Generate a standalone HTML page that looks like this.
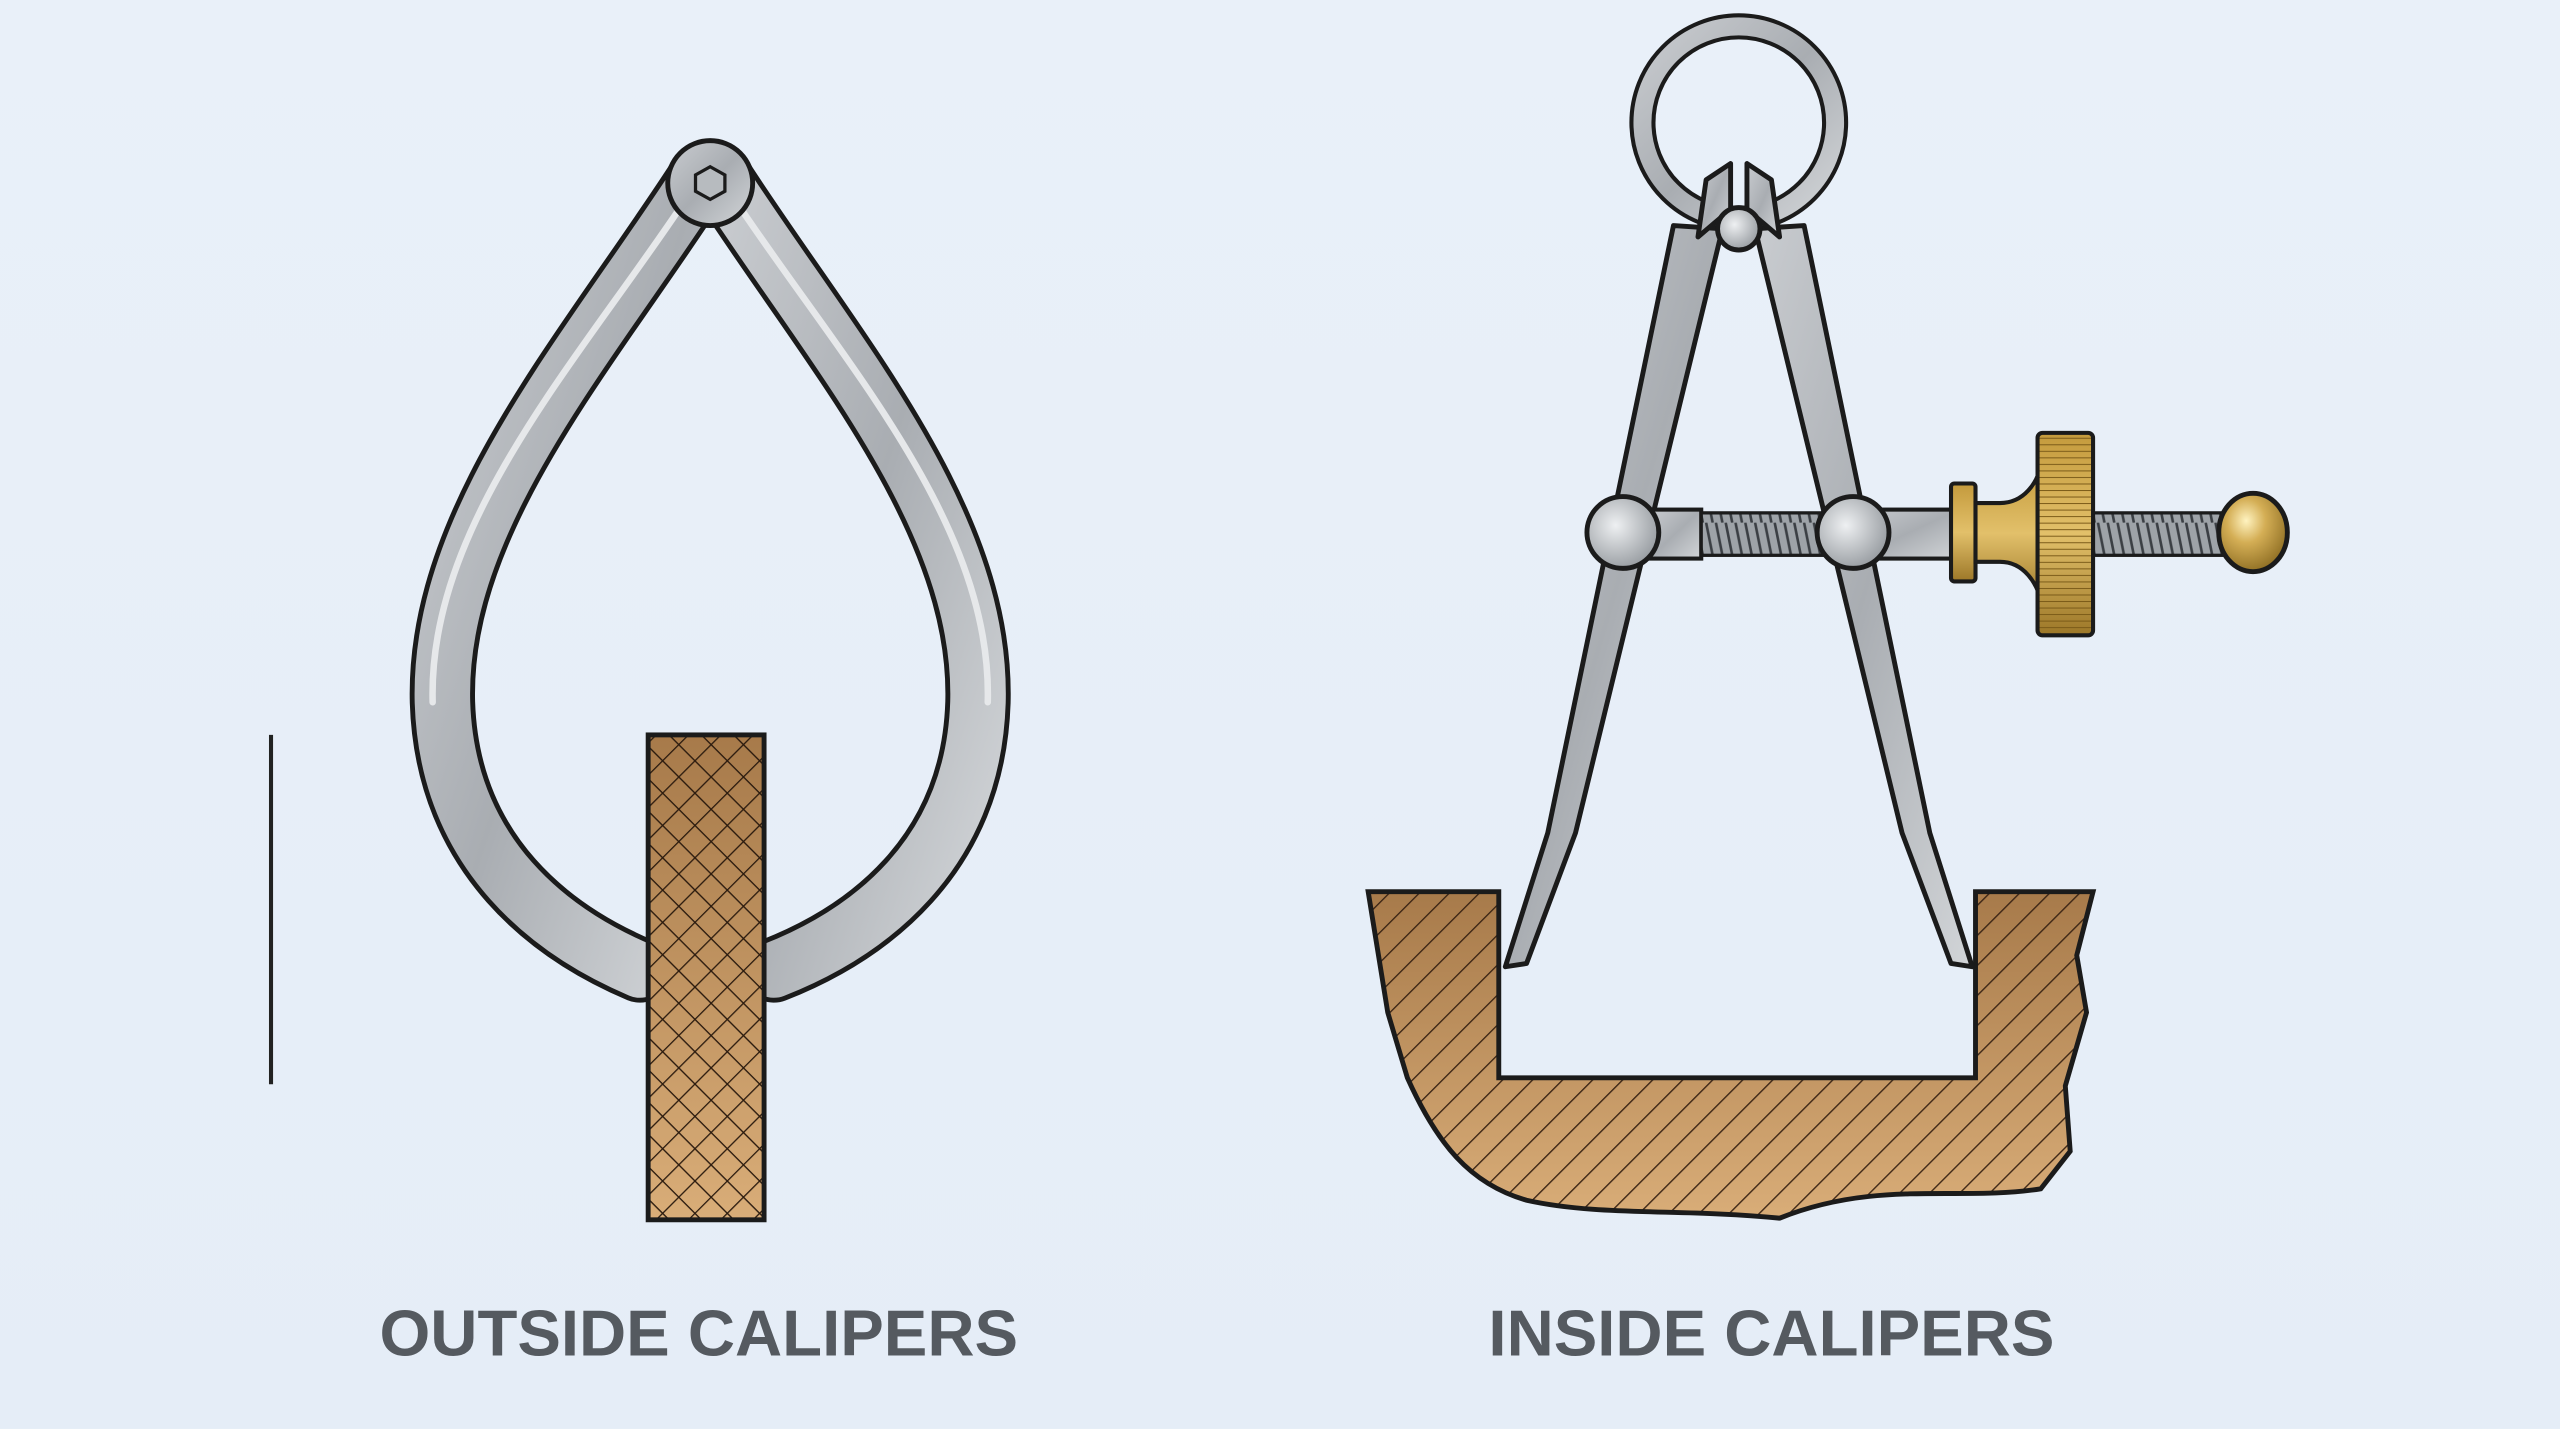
<!DOCTYPE html>
<html><head><meta charset="utf-8"><style>
html,body{margin:0;padding:0;width:2560px;height:1429px;overflow:hidden;background:#e8eff8}
svg{display:block}
</style></head><body>
<svg width="2560" height="1429" viewBox="0 0 1568 875" xmlns="http://www.w3.org/2000/svg">
<defs>
<linearGradient id="bg" x1="0" y1="0" x2="0" y2="1"><stop offset="0" stop-color="#e9f0f9"/><stop offset="1" stop-color="#e5edf7"/></linearGradient>
<linearGradient id="steel" x1="0" y1="0" x2="1" y2="1"><stop offset="0" stop-color="#c9ccd0"/><stop offset="0.5" stop-color="#a9adb2"/><stop offset="1" stop-color="#d2d5d8"/></linearGradient>
<radialGradient id="ball" cx="0.4" cy="0.4" r="0.7"><stop offset="0" stop-color="#eef0f2"/><stop offset="1" stop-color="#8e9398"/></radialGradient>
<radialGradient id="brassball" cx="0.4" cy="0.35" r="0.7"><stop offset="0" stop-color="#fff3c0"/><stop offset="0.4" stop-color="#d4ae55"/><stop offset="1" stop-color="#8a6a20"/></radialGradient>
<linearGradient id="brass" x1="0" y1="0" x2="0" y2="1"><stop offset="0" stop-color="#c49a3c"/><stop offset="0.5" stop-color="#e2c06a"/><stop offset="1" stop-color="#9c7728"/></linearGradient>
<linearGradient id="bronze" x1="0" y1="0" x2="0" y2="1"><stop offset="0" stop-color="#a77a4a"/><stop offset="1" stop-color="#d9ad78"/></linearGradient>
<pattern id="xh" width="14" height="14" patternUnits="userSpaceOnUse" patternTransform="rotate(45)">
<rect width="14" height="14" fill="none"/><path d="M0,0H14M0,0V14" stroke="#2a1a0e" stroke-width="1.6"/></pattern>
<pattern id="dh" width="13" height="13" patternUnits="userSpaceOnUse" patternTransform="rotate(-45)">
<path d="M0,0H13" stroke="#3a2414" stroke-width="1.6"/></pattern>
<pattern id="thread" width="6" height="20" patternUnits="userSpaceOnUse">
<rect width="6" height="20" fill="#9ea3a8"/><path d="M1,0L5,20" stroke="#3b3f44" stroke-width="1.6"/></pattern>
<pattern id="knurl" width="4" height="10" patternUnits="userSpaceOnUse" patternTransform="rotate(90)">
<path d="M0,0V10" stroke="#7a5a18" stroke-width="1.2"/></pattern>
</defs>
<rect width="1568" height="875" fill="url(#bg)"/>

<!-- Outside calipers -->
<line x1="166" y1="450" x2="166" y2="664" stroke="#222" stroke-width="2.5"/>
<g fill="none" stroke-linecap="round">
<path d="M428,110 C360,215 268,318 271,430 C274,525 340,572 392,594" stroke="#1b1b1b" stroke-width="40"/>
<path d="M442,110 C510,215 602,318 599,430 C596,525 530,572 474,594" stroke="#1b1b1b" stroke-width="40"/>
<path d="M428,110 C360,215 268,318 271,430 C274,525 340,572 392,594" stroke="url(#steel)" stroke-width="34"/>
<path d="M442,110 C510,215 602,318 599,430 C596,525 530,572 474,594" stroke="url(#steel)" stroke-width="34"/>
<path d="M420,122 C355,220 262,320 265,430" stroke="#e6e8ea" stroke-width="4"/>
<path d="M450,122 C515,220 608,320 605,430" stroke="#e6e8ea" stroke-width="4"/>
</g>
<circle cx="435" cy="112" r="26" fill="url(#steel)" stroke="#1b1b1b" stroke-width="3"/>
<polygon points="435,102 444,107 444,117 435,122 426,117 426,107" fill="#b7bbbf" stroke="#1b1b1b" stroke-width="2"/>
<rect x="397" y="450" width="71" height="297" fill="url(#bronze)"/>
<rect x="397" y="450" width="71" height="297" fill="url(#xh)"/>
<rect x="397" y="450" width="71" height="297" fill="none" stroke="#1b1b1b" stroke-width="3"/>
<text x="428" y="830" text-anchor="middle" font-family="Liberation Sans, sans-serif" font-weight="bold" font-size="40" fill="#555a60">OUTSIDE CALIPERS</text>

<!-- Inside calipers: workpiece -->
<path d="M838,546 L918,546 L918,660 L1210,660 L1210,546 L1282,546 L1272,585 L1278,620 L1265,665 L1268,705 L1250,728 C1200,736 1150,722 1090,746 C1030,740 980,745 935,735 C900,725 880,700 862,660 L850,620 Z" fill="url(#bronze)"/>
<path d="M838,546 L918,546 L918,660 L1210,660 L1210,546 L1282,546 L1272,585 L1278,620 L1265,665 L1268,705 L1250,728 C1200,736 1150,722 1090,746 C1030,740 980,745 935,735 C900,725 880,700 862,660 L850,620 Z" fill="url(#dh)" stroke="#1b1b1b" stroke-width="3"/>

<!-- ring -->
<circle cx="1065" cy="75" r="59" fill="none" stroke="#1b1b1b" stroke-width="16"/>
<circle cx="1065" cy="75" r="59" fill="none" stroke="url(#steel)" stroke-width="11"/>
<!-- legs -->
<g stroke-linejoin="round">
<path d="M1025,138 L1055,140 L965,510 L935,590 L922,592 L948,510 Z" fill="url(#steel)" stroke="#1b1b1b" stroke-width="3"/>
<path d="M1105,138 L1075,140 L1165,510 L1195,590 L1208,592 L1182,510 Z" fill="url(#steel)" stroke="#1b1b1b" stroke-width="3"/>
<path d="M1040,145 L1045,110 L1060,100 L1060,128 Z" fill="url(#steel)" stroke="#1b1b1b" stroke-width="3"/>
<path d="M1090,145 L1085,110 L1070,100 L1070,128 Z" fill="url(#steel)" stroke="#1b1b1b" stroke-width="3"/>
</g>
<circle cx="1065" cy="140" r="13" fill="url(#ball)" stroke="#1b1b1b" stroke-width="3"/>
<!-- screw -->
<rect x="1010" y="312" width="32" height="30" fill="url(#steel)" stroke="#1b1b1b" stroke-width="2.5"/>
<rect x="1042" y="314" width="76" height="26" fill="url(#thread)" stroke="#1b1b1b" stroke-width="2"/>
<rect x="1135" y="312" width="65" height="30" fill="url(#steel)" stroke="#1b1b1b" stroke-width="2.5"/>
<rect x="1282" y="314" width="80" height="26" fill="url(#thread)" stroke="#1b1b1b" stroke-width="2"/>
<circle cx="994" cy="326" r="22" fill="url(#ball)" stroke="#1b1b1b" stroke-width="3"/>
<circle cx="1135" cy="326" r="22" fill="url(#ball)" stroke="#1b1b1b" stroke-width="3"/>
<rect x="1195" y="296" width="15" height="60" rx="2" fill="url(#brass)" stroke="#1b1b1b" stroke-width="2.5"/>
<path d="M1210,308 L1225,308 C1240,308 1248,295 1250,285 L1250,368 C1248,358 1240,344 1225,344 L1210,344 Z" fill="url(#brass)" stroke="#1b1b1b" stroke-width="2.5"/>
<rect x="1248" y="265" width="34" height="124" rx="3" fill="url(#brass)"/>
<rect x="1248" y="265" width="34" height="124" rx="3" fill="url(#knurl)" stroke="#1b1b1b" stroke-width="2.5"/>
<ellipse cx="1380" cy="326" rx="21" ry="24" fill="url(#brassball)" stroke="#1b1b1b" stroke-width="3"/>
<text x="1085" y="830" text-anchor="middle" font-family="Liberation Sans, sans-serif" font-weight="bold" font-size="40" fill="#555a60">INSIDE CALIPERS</text>
</svg>
</body></html>
